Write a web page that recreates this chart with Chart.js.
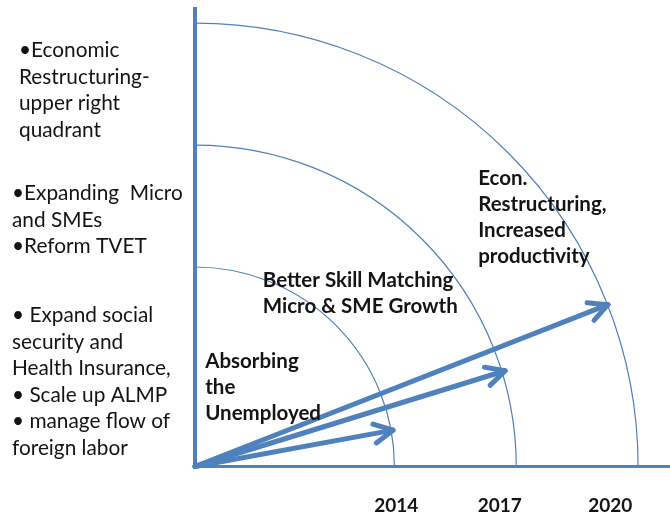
<!DOCTYPE html>
<html>
<head>
<meta charset="utf-8">
<script src="https://cdn.jsdelivr.net/npm/chart.js"></script>
<style>
  html, body { margin: 0; padding: 0; background: #fff; }
  #wrap { width: 670px; height: 519px; }
</style>
</head>
<body>
<div id="wrap"><canvas id="chart"></canvas></div>
<script>
// data (1 unit = outer arc / 10)
const years = ['2014', '2017', '2020'];
const yearTickPos = [4.54, 6.88, 9.37];
const stageRadius = [4.5, 7.25, 10.0];
const arrowTipX = [4.47, 7.0, 9.32];
const arrowTipY = [0.82, 2.16, 3.65];

const stageNames = [
  ['Absorbing', 'the', 'Unemployed'],
  ['Better Skill Matching', 'Micro & SME Growth'],
  ['Econ.', 'Restructuring,', 'Increased', 'productivity']
];
const policyNotes = [
  ['•Economic', 'Restructuring-', 'upper right', 'quadrant'],
  ['•Expanding  Micro', 'and SMEs', '•Reform TVET'],
  ['• Expand social', 'security and', 'Health Insurance,', '• Scale up ALMP', '• manage flow of', 'foreign labor']
];

// where the texts sit (stage labels in axis units, notes in pixels)
const stageAnchor = [[0.23, 2.22], [1.53, 4.05], [6.39, 6.35]];
const noteAnchor = [[19, 57], [12, 200], [12, 322]];

const blue = '#4F81BD';
const ink = '#141414';
const fontFam = 'Lato, "Open Sans", sans-serif';

// 👉 arcs + arrowheads + texts
const quadrantPlugin = {
  id: 'quadrant',
  beforeDatasetsDraw(chart) {
    const { ctx, scales: { x, y } } = chart;
    const cx = x.getPixelForValue(0);
    const cy = y.getPixelForValue(0);
    ctx.save();
    ctx.strokeStyle = blue;
    ctx.lineWidth = 1.2;
    stageRadius.forEach(r => {
      const rx = x.getPixelForValue(r) - cx;
      const ry = cy - y.getPixelForValue(r);
      ctx.beginPath();
      ctx.ellipse(cx, cy, rx, ry, 0, -Math.PI / 2, 0);
      ctx.stroke();
    });
    ctx.restore();
  },
  afterDatasetsDraw(chart) {
    const { ctx, scales: { x, y } } = chart;
    ctx.save();
    // arrowheads
    ctx.strokeStyle = blue;
    ctx.lineWidth = 5;
    ctx.lineCap = 'round';
    ctx.lineJoin = 'round';
    chart.data.datasets.forEach((ds, i) => {
      const pts = chart.getDatasetMeta(i).data;
      const a = pts[0], b = pts[pts.length - 1];
      const ang = Math.atan2(b.y - a.y, b.x - a.x);
      const len = 21, spread = 27 * Math.PI / 180;
      ctx.beginPath();
      ctx.moveTo(b.x - len * Math.cos(ang - spread), b.y - len * Math.sin(ang - spread));
      ctx.lineTo(b.x, b.y);
      ctx.lineTo(b.x - len * Math.cos(ang + spread), b.y - len * Math.sin(ang + spread));
      ctx.stroke();
    });

    // stage labels
    ctx.fillStyle = ink;
    ctx.textAlign = 'left';
    ctx.textBaseline = 'alphabetic';
    ctx.font = 'bold 20.5px ' + fontFam;
    stageNames.forEach((lines, i) => {
      const px = x.getPixelForValue(stageAnchor[i][0]);
      const py = y.getPixelForValue(stageAnchor[i][1]);
      lines.forEach((t, j) => ctx.fillText(t, px, py + j * 26));
    });

    // policy notes on the left
    ctx.font = '20.8px ' + fontFam;
    policyNotes.forEach((lines, i) => {
      lines.forEach((t, j) => ctx.fillText(t, noteAnchor[i][0], noteAnchor[i][1] + j * 26.5));
    });
    ctx.restore();
  }
};

new Chart(document.getElementById('chart'), {
  type: 'scatter',
  data: {
    datasets: arrowTipX.map((tx, i) => ({
      label: years[i],
      data: [{ x: 0, y: 0 }, { x: tx, y: arrowTipY[i] }],
      showLine: true,
      borderColor: blue,
      borderWidth: 5,
      borderCapStyle: 'round',
      pointRadius: 0,
      clip: false
    }))
  },
  options: {
    responsive: true,
    maintainAspectRatio: false,
    animation: false,
    layout: { padding: { left: 195, top: 9, right: 0, bottom: 0 } },
    plugins: { legend: { display: false }, tooltip: { enabled: false } },
    scales: {
      x: {
        type: 'linear',
        min: 0,
        max: 10.72,
        grid: { display: false, drawTicks: false },
        border: { display: true, color: blue, width: 3 },
        afterBuildTicks: s => { s.ticks = yearTickPos.map(v => ({ value: v })); },
        afterFit: s => { s.height = 52.5; },
        ticks: {
          autoSkip: false,
          maxRotation: 0,
          padding: 28,
          color: ink,
          font: { family: fontFam, size: 19, weight: 'bold' },
          callback: (v, i) => years[i]
        }
      },
      y: {
        type: 'linear',
        min: 0,
        max: 10.32,
        grid: { display: false, drawTicks: false },
        border: { display: true, color: blue, width: 4 },
        ticks: { display: false },
        afterFit: s => { s.width = 0; }
      }
    }
  },
  plugins: [quadrantPlugin]
});
</script>
</body>
</html>
